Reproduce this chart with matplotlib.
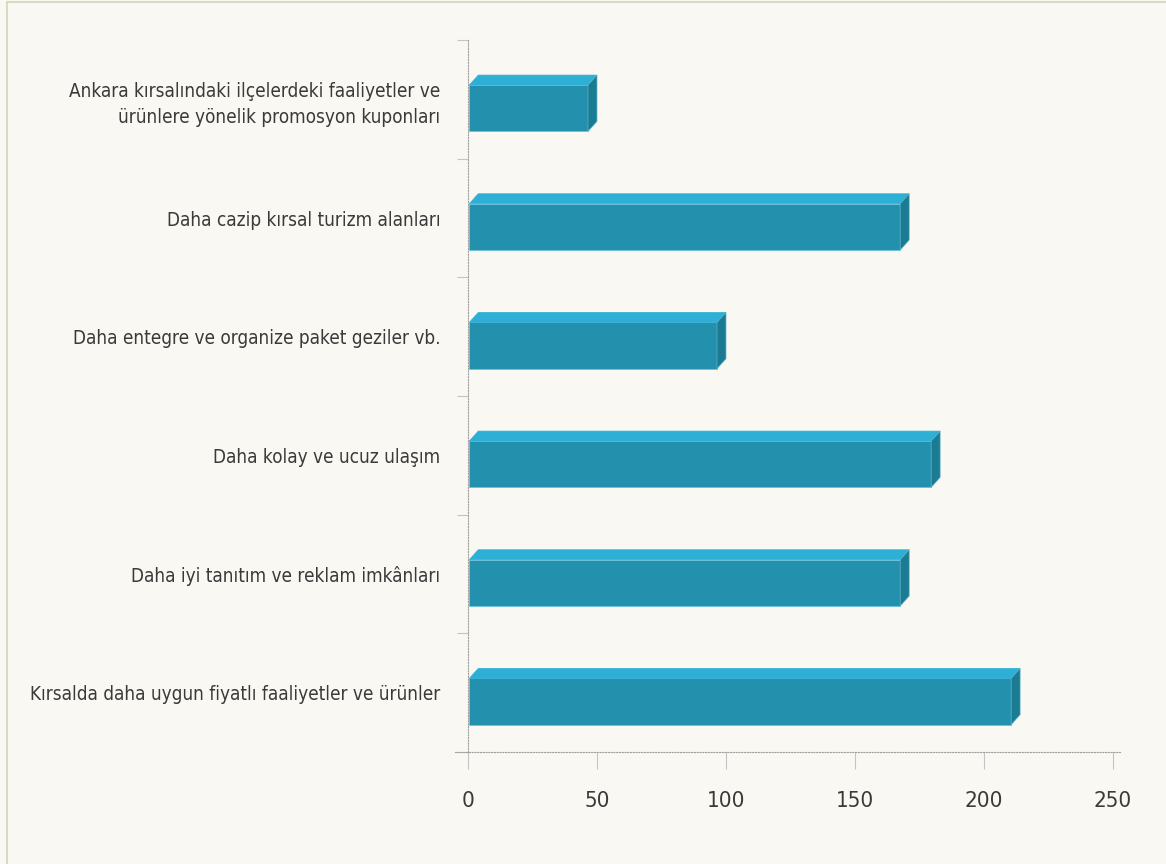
import matplotlib
matplotlib.use("Agg")
import matplotlib.pyplot as plt
from matplotlib.patches import Polygon, Rectangle
from matplotlib import font_manager
import numpy as np

categories = [
    "Ankara kırsalındaki ilçelerdeki faaliyetler ve\nürünlere yönelik promosyon kuponları",
    "Daha cazip kırsal turizm alanları",
    "Daha entegre ve organize paket geziler vb.",
    "Daha kolay ve ucuz ulaşım",
    "Daha iyi tanıtım ve reklam imkânları",
    "Kırsalda daha uygun fiyatlı faaliyetler ve ürünler",
]
values = [46, 167, 96, 179, 167, 210]
xticks = [0, 50, 100, 150, 200, 250]

BG = "#f9f8f3"
FRONT = "#2390ae"
TOP = "#2eafd6"
SIDE = "#1a7b93"
TEXT = "#3a3a3a"
GRID = "#a0a0a0"
TICK = "#c4c4c4"
DOT = (0, (1, 1.5))

# condensed face if there is one
cond = [f.fname for f in font_manager.fontManager.ttflist
        if f.name == "DejaVu Sans" and f.stretch == "condensed" and f.weight in (400, "normal") and f.style == "normal"]


def fp(size):
    if cond:
        return dict(fontproperties=font_manager.FontProperties(fname=cond[0], size=size))
    return dict(fontsize=size * 0.85)


W, H = 1166, 864
fig = plt.figure(figsize=(W / 100, H / 100), dpi=100, facecolor=BG)
# thin frame at top-left like the source page
fig.patches.append(Rectangle((7 / W, -0.1), 1.2, 1 - 2 / H + 0.1, transform=fig.transFigure,
                             fill=False, edgecolor="#d4d4b4", linewidth=1.2))

ax = fig.add_axes([455 / W, 1 - 752 / H, (1120 - 455) / W, (752 - 40) / H])
ax.set_facecolor(BG)
ax.set_xlim(-5.04, 252.7)
ax.set_ylim(len(categories) - 0.5, -0.5)

for s in ["top", "right"]:
    ax.spines[s].set_visible(False)
ax.spines["left"].set_position(("data", 0))
for s in ["bottom", "left"]:
    ax.spines[s].set_linestyle(DOT)
    ax.spines[s].set_color(GRID)
    ax.spines[s].set_linewidth(0.8)

# depth of the pseudo 3d boxes, in pixels -> data units
px_x = (252.7 + 5.04) / (1120 - 455)
px_y = len(categories) / (752 - 40)
dx, dy = 9 * px_x, 10 * px_y
h = 0.39
off = 0.075

y = np.arange(len(categories))
ax.barh(y + off, values, height=h, left=0.5, color=FRONT, edgecolor="#6cc4da", linewidth=0.6, zorder=3)
for yi, v in zip(y, values):
    top = yi + off - h / 2
    bot = yi + off + h / 2
    ax.add_patch(Polygon([(0.5, top), (v + 0.5, top), (v + 0.5 + dx, top - dy), (0.5 + dx, top - dy)],
                         closed=True, facecolor=TOP, edgecolor=TOP, linewidth=0.5, zorder=3))
    ax.add_patch(Polygon([(v + 0.5, top), (v + 0.5 + dx, top - dy), (v + 0.5 + dx, bot - dy), (v + 0.5, bot)],
                         closed=True, facecolor=SIDE, edgecolor="#5fb3c8", linewidth=0.5, zorder=3))

ax.set_xticks(xticks)
ax.set_xticklabels([str(t) for t in xticks], color=TEXT, **fp(16))
ax.tick_params(axis="x", length=12, width=0.8, color=TICK, pad=16)

ax.set_yticks(y)
ax.set_yticklabels(categories, color=TEXT, linespacing=1.45, **fp(13.6))
ax.tick_params(axis="y", length=0, pad=20)
ax.set_yticks(np.arange(-0.5, len(categories), 1.0), minor=True)
ax.tick_params(axis="y", which="minor", length=8, width=0.8, color=TICK)

fig.savefig("out.png", dpi=100, facecolor=BG)
